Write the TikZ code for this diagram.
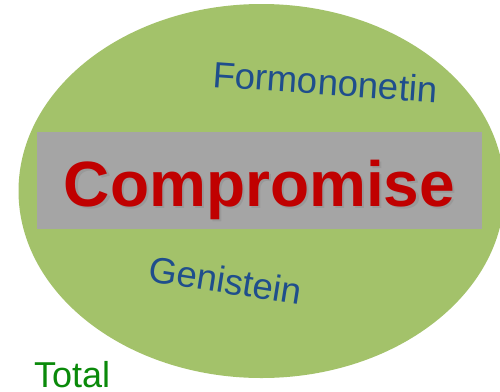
\documentclass[tikz,border=0pt]{standalone}
\usepackage{fontspec}
\setmainfont{Liberation Sans}
\usetikzlibrary{positioning}
\definecolor{ovalgreen}{HTML}{A3C26A}
\definecolor{boxgray}{HTML}{A5A5A5}
\definecolor{wordred}{HTML}{C00000}
\definecolor{wordblue}{HTML}{1F4E8C}
\definecolor{totalgreen}{HTML}{0A8A0A}

\begin{document}
\begin{tikzpicture}[x=1pt,y=-1pt,
    every node/.style={inner sep=0pt, outer sep=0pt},
    compound/.style={font=\fontsize{36.5}{36.5}\selectfont, text=wordblue, anchor=base west},
    banner/.style={font=\fontsize{64}{64}\selectfont\bfseries, anchor=base}]
    \useasboundingbox (0,0) rectangle (500,391);
    %
    \fill[ovalgreen] (261.5,191) ellipse [x radius=243, y radius=187];
    \node[fill=boxgray, minimum width=445pt, minimum height=97pt] (box) at (259.5,180.5) {};
    %
    \node[banner, text=black!40] (shadow) at (262,208.5) {Compromise};
    \node[banner, text=wordred] (comp) at (259.5,206) {Compromise};
    %
    \node[compound, rotate=-4] (form) at (212,87) {Formononetin};
    \node[compound, rotate=-9] (gen) at (147,281) {Genistein};
    %
    \node[compound, text=totalgreen, font=\fontsize{36}{36}\selectfont] (total) at (34,387) {Total};
\end{tikzpicture}
\end{document}
